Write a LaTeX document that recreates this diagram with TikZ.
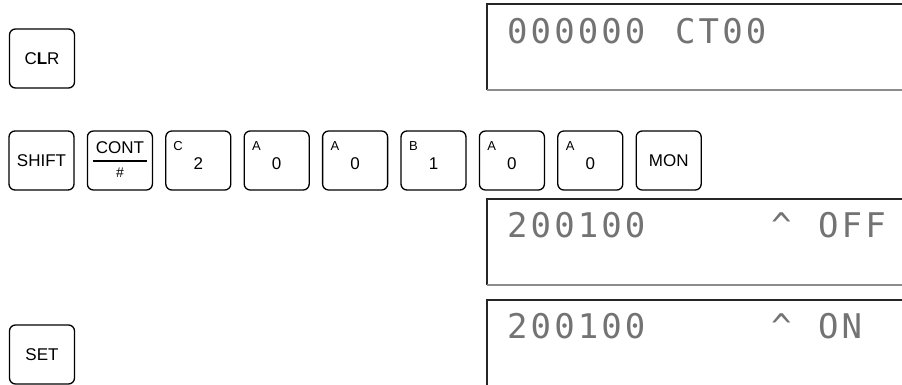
\documentclass[tikz,border=0pt]{standalone}
\usepackage{fontspec}
\setmainfont{Liberation Sans}
\newfontfamily\lcdfont[LetterSpace=9]{DejaVu Sans Mono}
\usepackage{tikz}
\usetikzlibrary{
    calc
}
\tikzset{
    key/.style={draw, line width=1.3pt, rounded corners=6pt,
        minimum width=65pt, minimum height=59pt, inner sep=0pt,
        font=\fontsize{17}{17}\selectfont},
    keysub/.style={inner sep=0pt, font=\fontsize{13}{13}\selectfont},
    lcd/.style={anchor=base west, inner sep=0pt, text=black!55,
        font=\lcdfont\fontsize{34}{34}\selectfont},
    lcdframe/.style={line width=1.2pt, draw=black!85},
    lcdshade/.style={line width=2pt, draw=black!45}
}

\begin{document}
\begin{tikzpicture}[x=1pt,y=-1pt]
\useasboundingbox (0,0) rectangle (902,384);
\clip (0,0) rectangle (902,384);
%%
\node[key] (clr) at (42,58.5) {C\textbf{L}R};
\node[key] (shift) at (41.5,160.5) {SHIFT};
\node[key] (cont) at (119.9,160.5) {};
\node[inner sep=0pt, font=\fontsize{17}{17}\selectfont] (conttop) at ($(cont.center)+(0,-12.5)$) {CONT};
\node[inner sep=0pt, font=\fontsize{14}{14}\selectfont] (contbot) at ($(cont.center)+(0,12.5)$) {\#};
\draw[line width=1.5pt] ($(cont.center)+(-27,0.5)$) -- ($(cont.center)+(27,0.5)$);
%
\foreach \sub/\dig [count=\i from 2] in {C/2,A/0,A/0,B/1,A/0,A/0} {
    \node[key] (k\i) at (41.5+78.4*\i,160.5) {};
    \node[keysub] (s\i) at ($(k\i.north west)+(13,16)$) {\sub};
    \node[inner sep=0pt, font=\fontsize{17}{17}\selectfont] (d\i) at ($(k\i.center)+(0,3)$) {\dig};
}
\node[key] (mon) at (668.7,160.5) {MON};
\node[key] (set) at (42,354.5) {SET};
%%
\foreach \ytop in {4,199,300} {
    \draw[lcdframe] (902,\ytop) -- (487,\ytop) -- (487,\ytop+86);
    \draw[lcdshade] (487,\ytop+86) -- (902,\ytop+86);
}
%
\node[lcd] (la) at (507,43) {000000};
\node[lcd] (lb) at (675,43) {CT00};
%
\node[lcd] (ma) at (507,237) {200100};
\node[lcd] (mb) at (771,237) {\^{}};
\node[lcd] (mc) at (818,237) {OFF};
%
\node[lcd] (na) at (507,338) {200100};
\node[lcd] (nb) at (771,338) {\^{}};
\node[lcd] (nc) at (818,338) {ON};
\end{tikzpicture}
\end{document}
